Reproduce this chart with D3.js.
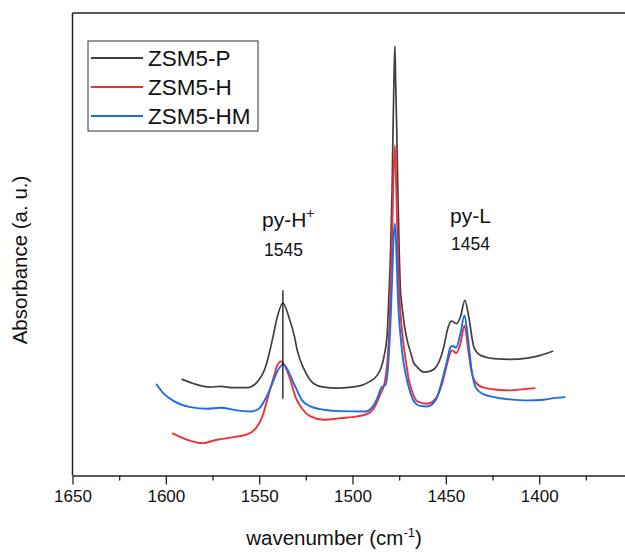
<!DOCTYPE html>
<html>
<head>
<meta charset="utf-8">
<script src="https://cdn.jsdelivr.net/npm/d3@7"></script>
<style>
  body { margin: 0; background: #fff; }
  svg { display: block; font-family: Arial, "Liberation Sans", sans-serif; }
</style>
</head>
<body>
<svg id="chart" width="625" height="553"></svg>
<script>
// ---------- data (wavenumber cm-1, absorbance a.u.) ----------
const seriesNames = ["ZSM5-P", "ZSM5-H", "ZSM5-HM"];
const seriesColors = ["#404040", "#ee3038", "#1c6ee6"];

const zsm5P = [
  [1591.6,0.963],[1585.0,0.917],[1576.1,0.883],[1570.7,0.890],[1563.6,0.877],[1556.4,0.877],
  [1551.1,0.933],[1546.6,1.083],[1543.0,1.350],[1540.3,1.583],[1537.3,1.723],[1534.1,1.583],
  [1531.1,1.390],[1529.6,1.250],[1526.1,1.067],[1520.7,0.917],[1515.4,0.883],[1508.2,0.873],
  [1497.5,0.890],[1491.3,0.933],[1486.8,1.000],[1483.2,1.183],[1481.4,1.420],[1480.6,1.750],
  [1479.6,2.250],[1478.8,2.850],[1478.3,3.450],[1477.8,3.950],[1477.3,4.290],[1476.9,3.950],
  [1476.3,3.450],[1475.7,2.850],[1475.0,2.250],[1474.3,1.850],[1473.4,1.680],[1472.2,1.500],
  [1470.7,1.350],[1468.9,1.230],[1467.3,1.130],[1465.3,1.083],[1461.8,1.033],[1458.2,1.043],
  [1454.6,1.100],[1451.1,1.283],[1449.0,1.467],[1447.0,1.543],[1444.3,1.517],[1442.2,1.583],
  [1439.8,1.750],[1437.7,1.583],[1435.0,1.283],[1431.4,1.200],[1424.3,1.167],[1415.4,1.160],
  [1406.4,1.173],[1399.3,1.200],[1392.5,1.243]
];
const zsm5H = [
  [1596.6,0.423],[1588.6,0.357],[1580.5,0.323],[1572.5,0.357],[1563.6,0.383],[1556.4,0.410],
  [1552.0,0.467],[1548.4,0.583],[1544.8,0.817],[1542.2,0.983],[1540.3,1.100],[1538.2,1.140],
  [1535.9,1.083],[1533.2,0.950],[1530.5,0.783],[1527.0,0.667],[1522.5,0.590],[1515.4,0.557],
  [1506.4,0.573],[1497.5,0.590],[1491.3,0.623],[1487.7,0.700],[1485.0,0.817],[1482.9,0.917],
  [1481.4,1.120],[1480.0,1.620],[1479.4,2.050],[1478.7,2.450],[1478.2,2.900],[1477.3,3.300],
  [1476.6,2.900],[1476.0,2.450],[1475.4,2.030],[1474.6,1.700],[1473.5,1.450],[1472.5,1.283],
  [1471.3,1.130],[1469.8,0.950],[1468.9,0.890],[1467.3,0.800],[1465.3,0.740],[1460.0,0.717],
  [1455.5,0.767],[1452.0,0.917],[1449.3,1.117],[1447.5,1.233],[1446.6,1.250],[1444.5,1.223],
  [1442.2,1.317],[1440.0,1.500],[1438.2,1.283],[1436.4,1.050],[1434.1,0.933],[1429.7,0.877],
  [1422.5,0.857],[1415.4,0.850],[1408.2,0.863],[1402.0,0.873]
];
const zsm5HM = [
  [1605.2,0.917],[1601.1,0.817],[1595.7,0.743],[1586.8,0.683],[1577.8,0.667],[1570.7,0.677],
  [1561.8,0.650],[1554.6,0.640],[1550.2,0.667],[1546.6,0.767],[1543.0,0.917],[1540.0,1.050],
  [1537.1,1.110],[1534.1,1.033],[1531.4,0.917],[1530.5,0.883],[1527.0,0.750],[1522.5,0.690],
  [1515.4,0.657],[1506.4,0.643],[1493.0,0.640],[1489.4,0.683],[1486.5,0.783],[1484.6,0.877],
  [1482.3,0.907],[1480.6,1.183],[1479.6,1.550],[1478.8,1.950],[1478.2,2.300],[1477.3,2.517],
  [1476.5,2.250],[1475.9,1.900],[1475.2,1.610],[1474.3,1.400],[1473.2,1.200],[1471.6,1.020],
  [1468.9,0.820],[1466.3,0.720],[1463.6,0.695],[1460.0,0.690],[1455.5,0.750],[1452.0,0.950],
  [1449.3,1.150],[1447.5,1.283],[1446.3,1.293],[1444.5,1.277],[1442.2,1.417],[1440.0,1.600],
  [1438.2,1.383],[1436.4,1.083],[1434.1,0.883],[1430.5,0.817],[1422.5,0.777],[1415.4,0.760],
  [1406.4,0.750],[1397.5,0.757],[1392.2,0.773],[1385.9,0.783]
];
const seriesData = [zsm5P, zsm5H, zsm5HM];

const majorTicks = [1650, 1600, 1550, 1500, 1450, 1400];
const minorTicks = [1625, 1575, 1525, 1475, 1425, 1375];

// peak marker line (wavenumber, from, to)
const markerLine = [1537.3, 0.767, 1.85];

// ---------- layout ----------
const svg = d3.select("#chart");
const mLeft = 72.5, mTop = 13, mBottom = 475.5;

const x = d3.scaleLinear().domain([1650, 1350]).range([mLeft, mLeft + 300 * 1.8667]);
const y = d3.scaleLinear().domain([0, 4.62]).range([mBottom, mTop]);

// frame: top + left lines
svg.append("line").attr("x1", mLeft).attr("x2", 625).attr("y1", mTop).attr("y2", mTop)
  .attr("stroke", "#222").attr("stroke-width", 1.5);
svg.append("line").attr("x1", mLeft).attr("x2", mLeft).attr("y1", mTop).attr("y2", mBottom)
  .attr("stroke", "#222").attr("stroke-width", 1.5);

// bottom axis
const gx = svg.append("g").attr("transform", `translate(0,${mBottom})`)
  .call(d3.axisBottom(x).tickValues(majorTicks).tickSize(9).tickSizeOuter(0).tickPadding(5)
    .tickFormat(d3.format("d")));
gx.select(".domain").attr("stroke", "#222").attr("stroke-width", 1.5);
gx.selectAll(".tick line").attr("stroke", "#222").attr("stroke-width", 1.3);
gx.selectAll(".tick text").attr("font-size", 17).attr("fill", "#111")
  .attr("font-family", "Arial, 'Liberation Sans', sans-serif");

const gm = svg.append("g").attr("transform", `translate(0,${mBottom})`)
  .call(d3.axisBottom(x).tickValues(minorTicks).tickSize(5).tickSizeOuter(0).tickFormat(""));
gm.select(".domain").remove();
gm.selectAll(".tick line").attr("stroke", "#222").attr("stroke-width", 1.3);

// axis titles
const xt = svg.append("text").attr("x", 334).attr("y", 545).attr("text-anchor", "middle")
  .attr("font-size", 20.5).attr("fill", "#111");
xt.append("tspan").text("wavenumber (cm");
xt.append("tspan").text("-1").attr("font-size", 13).attr("dy", -8);
xt.append("tspan").text(")").attr("dy", 8);

svg.append("text").attr("transform", "translate(27,260) rotate(-90)")
  .attr("text-anchor", "middle").attr("font-size", 20.5).attr("fill", "#111")
  .text("Absorbance (a. u.)");

// lines
const line = d3.line().x(d => x(d[0])).y(d => y(d[1])).curve(d3.curveMonotoneX);
seriesData.forEach((data, i) => {
  svg.append("path").datum(data).attr("d", line).attr("fill", "none")
    .attr("stroke", seriesColors[i]).attr("stroke-width", i === 0 ? 1.7 : 1.9)
    .attr("stroke-linejoin", "round");
});

// marker line
svg.append("line").attr("x1", x(markerLine[0])).attr("x2", x(markerLine[0]))
  .attr("y1", y(markerLine[1])).attr("y2", y(markerLine[2]))
  .attr("stroke", "#000").attr("stroke-width", 1.2);

// annotations
const a1 = svg.append("text").attr("x", 262).attr("y", 227).attr("font-size", 21).attr("fill", "#111");
a1.append("tspan").text("py-H");
a1.append("tspan").text("+").attr("font-size", 14).attr("dy", -9);
svg.append("text").attr("x", 264).attr("y", 256).attr("font-size", 17.5).attr("fill", "#111").text("1545");

svg.append("text").attr("x", 450).attr("y", 223).attr("font-size", 21).attr("fill", "#111").text("py-L");
svg.append("text").attr("x", 451).attr("y", 250).attr("font-size", 17.5).attr("fill", "#111").text("1454");

// legend
const lg = svg.append("g");
lg.append("rect").attr("x", 88).attr("y", 41).attr("width", 170).attr("height", 90)
  .attr("fill", "#fff").attr("stroke", "#333").attr("stroke-width", 1);
seriesNames.forEach((n, i) => {
  const yy = 58 + i * 29;
  lg.append("line").attr("x1", 91).attr("x2", 143).attr("y1", yy).attr("y2", yy)
    .attr("stroke", seriesColors[i]).attr("stroke-width", 1.8);
  lg.append("text").attr("x", 148).attr("y", yy + 8).attr("font-size", 22.5).attr("fill", "#111").text(n);
});
</script>
</body>
</html>
